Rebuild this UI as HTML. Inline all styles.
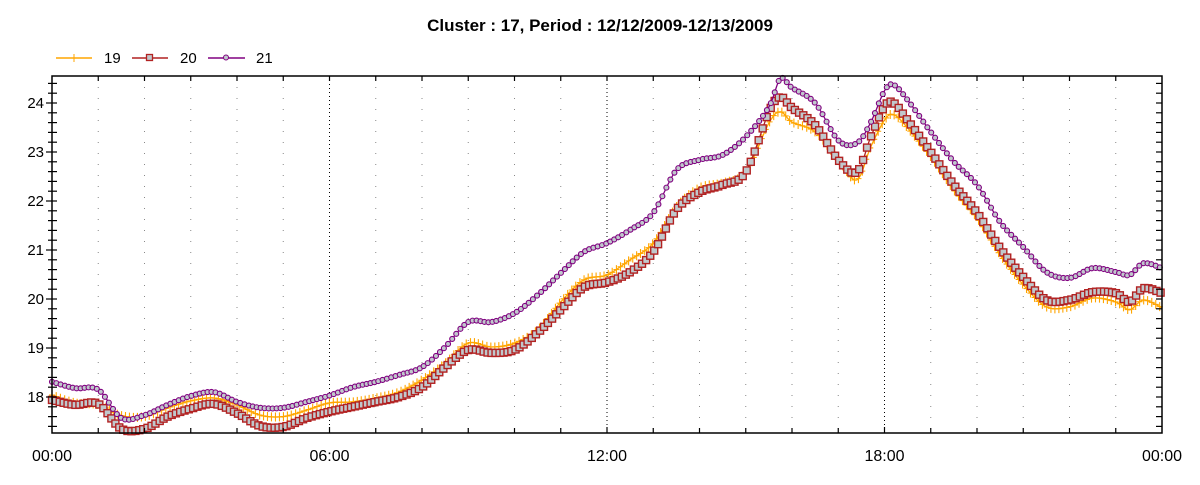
<!DOCTYPE html>
<html><head><meta charset="utf-8"><style>
body{margin:0;background:#fff;}
svg text{font-family:"Liberation Sans",sans-serif;}
</style></head><body>
<svg id="chart" width="1200" height="480" xmlns="http://www.w3.org/2000/svg">
<text x="600" y="31" text-anchor="middle" font-size="17" font-weight="bold">Cluster : 17, Period : 12/12/2009-12/13/2009</text>
<g font-size="15">
 <g><line x1="56" y1="58" x2="92" y2="58" stroke="#ffa500" stroke-width="1.5"/><line x1="74" y1="54" x2="74" y2="62" stroke="#ffa500"/><text x="104" y="63">19</text></g>
 <g><line x1="132" y1="58" x2="168" y2="58" stroke="#b22222" stroke-width="1.5"/><rect x="146.5" y="54.5" width="6" height="6" fill="#c0c8cc" stroke="#b22222" stroke-width="1.3"/><text x="180" y="63">20</text></g>
 <g><line x1="208" y1="58" x2="245" y2="58" stroke="#800080" stroke-width="1.5"/><circle cx="226" cy="57.5" r="2.5" fill="#c0c8cc" stroke="#800080"/><text x="256" y="63">21</text></g>
</g>
<g id="grid"></g>
<g id="series"></g>
<g id="axes"></g>
</svg>
<script>
const times=[0,0.5,1,1.5,2,2.5,3,3.5,4,4.5,5,5.5,6,6.5,7,7.5,8,8.5,9,9.5,10,10.5,11,11.5,12,12.5,13,13.5,14,14.5,15,15.5,15.75,16,16.5,17,17.4,17.7,18,18.2,18.5,19,19.5,20,20.5,21,21.5,22,22.5,23,23.3,23.6,24];
const s19=[18.04,17.88,17.84,17.62,17.6,17.78,17.92,17.98,17.84,17.63,17.6,17.73,17.88,17.9,17.98,18.1,18.35,18.69,19.1,19.02,19.1,19.37,19.94,20.39,20.49,20.8,21.14,21.88,22.27,22.37,22.59,23.59,23.82,23.61,23.41,22.84,22.43,23.1,23.65,23.76,23.49,22.9,22.22,21.65,20.9,20.29,19.84,19.84,20.02,19.94,19.78,19.98,19.82];
const s20=[17.94,17.84,17.86,17.35,17.35,17.6,17.76,17.86,17.67,17.41,17.39,17.57,17.7,17.8,17.9,18.0,18.2,18.61,18.96,18.9,18.96,19.31,19.78,20.24,20.34,20.55,20.96,21.82,22.18,22.33,22.59,23.82,24.12,23.9,23.55,22.84,22.59,23.3,23.93,24.0,23.65,23.0,22.33,21.76,21.04,20.45,19.98,19.98,20.14,20.12,19.94,20.22,20.12];
const s21=[18.31,18.18,18.15,17.57,17.63,17.84,18.02,18.1,17.9,17.78,17.78,17.9,18.03,18.2,18.31,18.45,18.61,19.02,19.53,19.53,19.71,20.08,20.53,20.96,21.14,21.41,21.76,22.63,22.84,22.94,23.31,23.92,24.5,24.31,24.0,23.24,23.18,23.6,24.25,24.37,24.06,23.41,22.8,22.33,21.57,21.06,20.55,20.43,20.63,20.55,20.49,20.73,20.63];
const yTicks=[18,19,20,21,22,23,24];
const xTickLabels=["00:00","06:00","12:00","18:00","00:00"];

const L=52,R=1162,T=76,B=433;
const X=h=>L+(R-L)*h/24;
const Y=v=>397-(v-18)*49;
const NS="http://www.w3.org/2000/svg";
function mk(tag,attrs,parent){const e=document.createElementNS(NS,tag);for(const k in attrs)e.setAttribute(k,attrs[k]);parent.appendChild(e);return e;}
const grid=document.getElementById('grid'),axes=document.getElementById('axes'),ser=document.getElementById('series');
for(let h=1;h<24;h++){
  const major=h%6===0;
  const g=mk('line',{x1:X(h),y1:T,x2:X(h),y2:B,stroke:major?'#000':'#888','stroke-width':1,'stroke-dasharray':major?'1,3':'1,10'},grid);
  
  
}
const fr=mk('rect',{x:L,y:T,width:R-L,height:B-T,fill:'none',stroke:'#000','stroke-width':1.5},axes);


for(let v=17.4;v<=24.5;v+=0.2){
  const vv=Math.round(v*10)/10;const major=Math.abs(vv-Math.round(vv))<0.01;
  const y=Y(vv);if(y<T||y>B)continue;
  const t=mk('line',{x1:major?L-6:L-4,y1:y,x2:L+5,y2:y,stroke:'#000','stroke-width':1.2},axes);
  
  
  const t2=mk('line',{x1:R-6,y1:y,x2:R,y2:y,stroke:'#000','stroke-width':1.2},axes);
  
  
}
yTicks.forEach(v=>{
  const t=mk('text',{x:L-8,y:Y(v)+5,'text-anchor':'end','font-size':15},axes);t.textContent=v;
  
  
});
for(let h=1;h<24;h++){
  const major=h%6===0;
  const t=mk('line',{x1:X(h),y1:B-(major?6:5),x2:X(h),y2:B,stroke:'#000','stroke-width':1.2},axes);
  
  
  const t2=mk('line',{x1:X(h),y1:T,x2:X(h),y2:T+5,stroke:'#000','stroke-width':1.2},axes);
  
  
}
xTickLabels.forEach((s,i)=>{
  const t=mk('text',{x:X(i*6),y:461,'text-anchor':'middle','font-size':16},axes);t.textContent=s;
  
  
});
function pathFor(vals){
  const p=times.map((t,i)=>[X(t),Y(vals[i])]);
  let d='M'+p[0][0]+','+p[0][1];
  for(let i=0;i<p.length-1;i++){
    const p0=p[Math.max(0,i-1)],p1=p[i],p2=p[i+1],p3=p[Math.min(p.length-1,i+2)];
    const c1=[p1[0]+(p2[0]-p0[0])/6,p1[1]+(p2[1]-p0[1])/6],c2=[p2[0]-(p3[0]-p1[0])/6,p2[1]-(p3[1]-p1[1])/6];
    d+=` C${c1[0]},${c1[1]} ${c2[0]},${c2[1]} ${p2[0]},${p2[1]}`;
  }
  return d;
}
const series=[{name:'19',vals:s19,color:'#ffa500',m:'plus'},{name:'20',vals:s20,color:'#b22222',m:'square'},{name:'21',vals:s21,color:'#800080',m:'circle'}];
series.forEach(s=>{
  const g=mk('g',{},ser);
  
  
  const path=mk('path',{d:pathFor(s.vals),fill:'none',stroke:s.color,'stroke-width':1.3},g);
  
  
  const len=path.getTotalLength();
  const step=(R-L)/288;let lastX=-1e9;
  for(let l=0;l<=len;l+=0.5){
    const pt=path.getPointAtLength(l);
    if(pt.x-lastX<step)continue;lastX=pt.x;
    let m;
    if(s.m==='plus'){
      m=mk('path',{d:`M${pt.x-3},${pt.y}h6M${pt.x},${pt.y-4.5}v9`,stroke:s.color,'stroke-width':1.1,fill:'none'},g);
    }else if(s.m==='square'){
      m=mk('rect',{x:pt.x-3.5,y:pt.y-3.5,width:7,height:7,fill:'#c0c8cc',stroke:s.color,'stroke-width':1.4},g);
    }else{
      m=mk('circle',{cx:pt.x,cy:pt.y,r:2.5,fill:'#c0c8cc',stroke:s.color,'stroke-width':1.1},g);
    }
    
    
  }
});
</script>
</body></html>
